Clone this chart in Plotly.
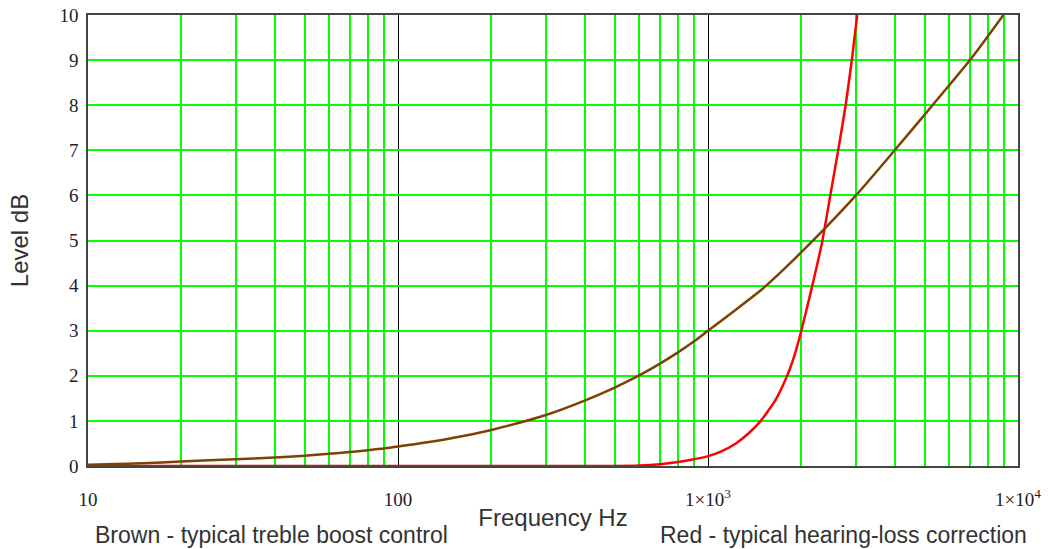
import plotly.graph_objects as go

# Brown - typical treble boost control
brown_freq = [10, 15, 20, 30, 40, 50, 60, 70, 80, 90, 100, 150, 200, 300, 400, 500,
              600, 700, 800, 900, 1000, 1200, 1500, 1700, 2000, 2400, 3000, 4000, 5300,
              7000, 8970]
brown_db = [0.03, 0.06, 0.10, 0.15, 0.19, 0.23, 0.27, 0.31, 0.35, 0.39, 0.43, 0.62, 0.80,
            1.13, 1.45, 1.74, 2.01, 2.27, 2.52, 2.76, 3.00, 3.41, 3.93, 4.27, 4.74, 5.29,
            6.00, 7.00, 8.00, 9.00, 10.0]

# Red - typical hearing-loss correction
red_freq = [10, 100, 500, 600, 700, 800, 900, 1000, 1100, 1230, 1350, 1480, 1650, 1800,
            1900, 2000, 2170, 2340, 2480, 2630, 2780, 2910, 3030]
red_db = [0, 0, 0, 0.01, 0.04, 0.09, 0.15, 0.22, 0.32, 0.50, 0.72, 1.00, 1.46, 2.00,
          2.45, 3.00, 4.00, 5.00, 6.00, 7.00, 8.00, 9.00, 10.0]

decades = [10, 100, 1000, 10000]
decade_labels = ["10", "100", "1×10<sup>3</sup>", "1×10<sup>4</sup>"]
y_tickvals = list(range(0, 11))
minor_x = [d * m for d in decades[:-1] for m in range(2, 10)]

fig = go.Figure()
fig.add_trace(go.Scatter(x=red_freq, y=red_db, mode="lines",
                         line=dict(color="#ff0000", width=2.5, shape="spline", smoothing=0.5),
                         showlegend=False))
fig.add_trace(go.Scatter(x=brown_freq, y=brown_db, mode="lines",
                         line=dict(color="#804000", width=2.5, shape="spline", smoothing=0.8),
                         showlegend=False))

W, H = 1055, 549
L, R, T, B = 88, 37, 15, 83

tick_font = dict(family="Liberation Serif", size=19, color="#1c1c2c")
fig.update_layout(
    width=W, height=H,
    margin=dict(l=L, r=R, t=T, b=B, autoexpand=False),
    paper_bgcolor="white", plot_bgcolor="white",
    font=dict(family="Liberation Sans", color="#333333"),
    xaxis=dict(
        type="log", range=[1, 4], automargin=False,
        tickmode="array", tickvals=decades, ticktext=decade_labels, tickfont=tick_font,
        ticks="", ticklabelstandoff=15,
        showgrid=True, gridcolor="#000000", gridwidth=1,
        minor=dict(tickmode="array", tickvals=minor_x, showgrid=True,
                   gridcolor="#00ff00", gridwidth=1.6, ticks=""),
        showline=True, linecolor="#444444", linewidth=1.5, mirror=True,
        zeroline=False,
        title=dict(text="Frequency Hz", font=dict(size=24, color="#333333"), standoff=1),
    ),
    yaxis=dict(
        range=[0, 10], automargin=False, tickvals=y_tickvals, tickfont=tick_font,
        ticks="", ticklabelstandoff=4,
        showgrid=True, gridcolor="#00ff00", gridwidth=1.6,
        showline=True, linecolor="#444444", linewidth=1.5, mirror=True,
        zeroline=False,
        title=dict(text="Level dB", font=dict(size=24, color="#333333"), standoff=24),
    ),
)
pw = W - L - R
ph = H - T - B
ann = []
for text, (px, py) in [("Brown - typical treble boost control", (93, 535)),
                       ("Red - typical hearing-loss correction", (658, 535))]:
    ann.append(dict(text=text, x=(px - L) / pw, y=(H - B - py) / ph,
                    xref="paper", yref="paper", xanchor="left", yanchor="middle",
                    showarrow=False, font=dict(size=23, color="#333333")))
fig.update_layout(annotations=ann)

fig.write_html("out.html", config={"displayModeBar": False},
               post_script="document.body.style.margin='0';document.body.style.overflow='hidden';")
